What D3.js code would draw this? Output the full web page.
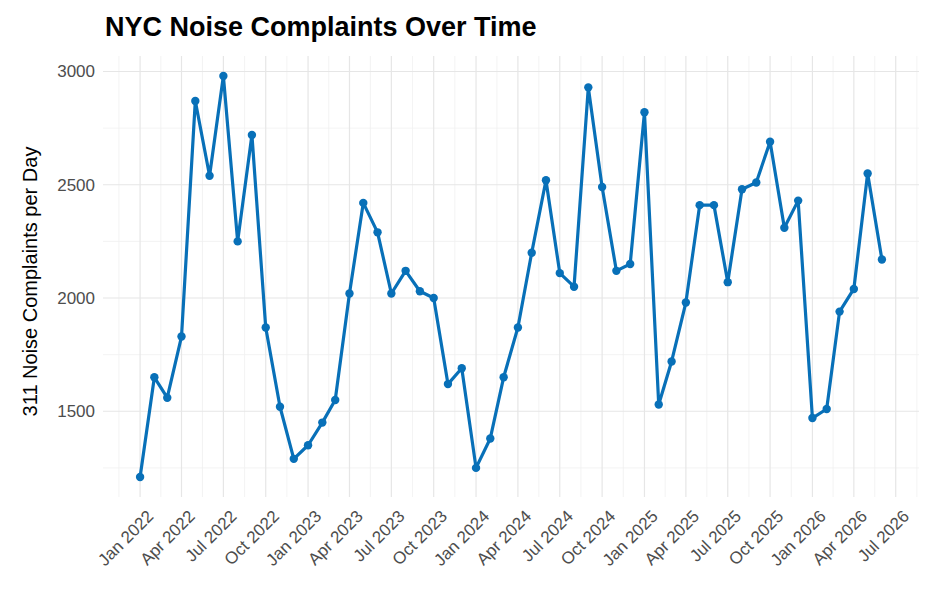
<!DOCTYPE html>
<html>
<head>
<meta charset="utf-8">
<script src="https://cdn.jsdelivr.net/npm/d3@7"></script>
<style>
  body { margin: 0; background: #fff; font-family: Arial, "Liberation Sans", sans-serif; }
</style>
</head>
<body>
<svg id="chart" width="931" height="598"></svg>
<script>
// monthly values, Jan 2022 .. Jun 2026
var startMonth = [2022, 0];
var values = [
  1210, 1650, 1560, 1830, 2870, 2540, 2980, 2250, 2720, 1870, 1520, 1290,
  1350, 1450, 1550, 2020, 2420, 2290, 2020, 2120, 2030, 2000, 1620, 1690,
  1250, 1380, 1650, 1870, 2200, 2520, 2110, 2050, 2930, 2490, 2120, 2150,
  2820, 1530, 1720, 1980, 2410, 2410, 2070, 2480, 2510, 2690, 2310, 2430,
  1470, 1510, 1940, 2040, 2550, 2170
];
var yTicks = [1500, 2000, 2500, 3000];
var yMinor = [1250, 1750, 2250, 2750];
var monthNames = ['Jan','Feb','Mar','Apr','May','Jun','Jul','Aug','Sep','Oct','Nov','Dec'];

var data = values.map(function(v, i) {
  return { date: new Date(startMonth[0], startMonth[1] + i, 1), value: v };
});

var svg = d3.select('#chart');
var pLeft = 103, pRight = 919, pTop = 56, pBottom = 497;

// ggplot-style 5% expansion
var t0 = data[0].date.getTime(), t1 = data[data.length - 1].date.getTime();
var tp = (t1 - t0) * 0.05;
var x = d3.scaleTime().domain([new Date(t0 - tp), new Date(t1 + tp)]).range([pLeft, pRight]);
var ext = d3.extent(values), vp = (ext[1] - ext[0]) * 0.05;
var y = d3.scaleLinear().domain([ext[0] - vp, ext[1] + vp]).range([pBottom, pTop]);

var xTicks = [];
for (var i = -3; i <= 57; i += 3) {
  var d = new Date(2022, i, 1);
  if (d >= x.domain()[0] && d <= x.domain()[1]) xTicks.push(d);
}
var xMinor = [];
for (var j = -3; j <= 57; j += 3) {
  var m = new Date((new Date(2022, j, 1).getTime() + new Date(2022, j + 3, 1).getTime()) / 2);
  if (m >= x.domain()[0] && m <= x.domain()[1]) xMinor.push(m);
}

var grid = svg.append('g');
grid.selectAll('.ymin').data(yMinor).enter().append('line')
  .attr('x1', pLeft).attr('x2', pRight).attr('y1', y).attr('y2', y)
  .attr('stroke', '#f0f0f0').attr('stroke-width', 0.8);
grid.selectAll('.xmin').data(xMinor).enter().append('line')
  .attr('y1', pTop).attr('y2', pBottom).attr('x1', x).attr('x2', x)
  .attr('stroke', '#f0f0f0').attr('stroke-width', 0.8);
grid.selectAll('.ymaj').data(yTicks).enter().append('line')
  .attr('x1', pLeft).attr('x2', pRight).attr('y1', y).attr('y2', y)
  .attr('stroke', '#e6e6e6').attr('stroke-width', 1.2);
grid.selectAll('.xmaj').data(xTicks).enter().append('line')
  .attr('y1', pTop).attr('y2', pBottom).attr('x1', x).attr('x2', x)
  .attr('stroke', '#e6e6e6').attr('stroke-width', 1.2);

// y tick labels
svg.selectAll('.ylab').data(yTicks).enter().append('text')
  .attr('x', pLeft - 8).attr('y', function(d) { return y(d); }).attr('dy', '0.35em')
  .attr('text-anchor', 'end').attr('font-size', 17).attr('fill', '#4d4d4d')
  .text(function(d) { return d; });

// x tick labels, rotated 45
svg.selectAll('.xlab').data(xTicks).enter().append('text')
  .attr('transform', function(d) { return 'translate(' + (x(d) + 6) + ',' + (pBottom + 12) + ') rotate(-45)'; })
  .attr('text-anchor', 'end').attr('dy', '0.7em').attr('font-size', 17).attr('fill', '#4d4d4d')
  .text(function(d) { return monthNames[d.getMonth()] + ' ' + d.getFullYear(); });

var line = d3.line().x(function(d) { return x(d.date); }).y(function(d) { return y(d.value); });
svg.append('path').datum(data).attr('d', line)
  .attr('fill', 'none').attr('stroke', '#0870b8').attr('stroke-width', 3.2)
  .attr('stroke-linejoin', 'round');
svg.selectAll('.pt').data(data).enter().append('circle')
  .attr('cx', function(d) { return x(d.date); }).attr('cy', function(d) { return y(d.value); })
  .attr('r', 4.2).attr('fill', '#0870b8');

svg.append('text').attr('x', 105).attr('y', 36)
  .attr('font-size', 27).attr('font-weight', 'bold').attr('fill', '#000')
  .text('NYC Noise Complaints Over Time');

svg.append('text')
  .attr('transform', 'translate(37,' + ((pTop + pBottom) / 2 + 5) + ') rotate(-90)')
  .attr('text-anchor', 'middle').attr('font-size', 20).attr('fill', '#000')
  .text('311 Noise Complaints per Day');
</script>
</body>
</html>
